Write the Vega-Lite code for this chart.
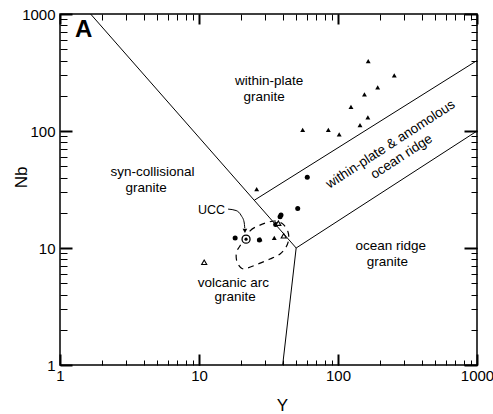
{
  "$schema": "https://vega.github.io/schema/vega-lite/v6.json",
  "width": 417,
  "height": 351,
  "autosize": "none",
  "padding": {"left": 60, "top": 14, "right": 16, "bottom": 49},
  "config": {
    "view": {"stroke": "black", "strokeWidth": 1.5},
    "font": "Liberation Sans",
    "axis": {
      "grid": false,
      "domain": false,
      "tickColor": "black",
      "labelColor": "black",
      "titleColor": "black",
      "labelFont": "Liberation Sans",
      "titleFont": "Liberation Sans",
      "labelFontSize": 15,
      "titleFontSize": 17,
      "titleFontWeight": "normal",
      "labelFlush": false,
      "labelOverlap": false,
      "labelBound": false
    }
  },
  "resolve": {"axis": {"x": "independent", "y": "independent"}},
  "datasets": {
    "bounds": [
      {"Y1": 1.66, "Nb1": 1000, "Y2": 50, "Nb2": 10},
      {"Y1": 25, "Nb1": 25.6, "Y2": 1000, "Nb2": 400},
      {"Y1": 50, "Nb1": 10, "Y2": 1000, "Nb2": 100},
      {"Y1": 50, "Nb1": 10, "Y2": 40, "Nb2": 1}
    ],
    "loop": [
      {"i": 1, "Y": 19.7, "Nb": 10.4},
      {"i": 2, "Y": 23.3, "Nb": 14.0},
      {"i": 3, "Y": 26.6, "Nb": 15.4},
      {"i": 4, "Y": 30.3, "Nb": 16.4},
      {"i": 5, "Y": 35.2, "Nb": 17.0},
      {"i": 6, "Y": 40.2, "Nb": 16.0},
      {"i": 7, "Y": 43.7, "Nb": 13.7},
      {"i": 8, "Y": 44.1, "Nb": 11.7},
      {"i": 9, "Y": 42.3, "Nb": 10.2},
      {"i": 10, "Y": 38.3, "Nb": 8.89},
      {"i": 11, "Y": 32.4, "Nb": 8.05},
      {"i": 12, "Y": 26.6, "Nb": 7.3},
      {"i": 13, "Y": 22.5, "Nb": 6.75},
      {"i": 14, "Y": 20.4, "Nb": 6.68},
      {"i": 15, "Y": 18.9, "Nb": 7.44},
      {"i": 16, "Y": 18.5, "Nb": 8.54},
      {"i": 17, "Y": 18.9, "Nb": 9.61}
    ],
    "arrow": [
      {"i": 1, "Y": 16.2, "Nb": 21.5},
      {"i": 2, "Y": 18.5, "Nb": 20.9},
      {"i": 3, "Y": 20.2, "Nb": 18.8},
      {"i": 4, "Y": 21.1, "Nb": 16.7},
      {"i": 5, "Y": 21.35, "Nb": 14.8}
    ],
    "arrowhead": [{"Y": 21.4, "Nb": 14.0}],
    "triFilled": [
      {"Y": 165, "Nb": 396}, {"Y": 254, "Nb": 299}, {"Y": 193, "Nb": 236},
      {"Y": 155, "Nb": 206}, {"Y": 124, "Nb": 161}, {"Y": 164, "Nb": 131},
      {"Y": 144, "Nb": 112}, {"Y": 55.7, "Nb": 102}, {"Y": 85.2, "Nb": 102},
      {"Y": 102, "Nb": 93.7}, {"Y": 26, "Nb": 31.9},
      {"Y": 34.8, "Nb": 12.2}, {"Y": 27.5, "Nb": 11.9}
    ],
    "circFilled": [
      {"Y": 51.3, "Nb": 21.8}, {"Y": 38.9, "Nb": 19.1}, {"Y": 38.3, "Nb": 18.5},
      {"Y": 35.6, "Nb": 15.9}, {"Y": 18.2, "Nb": 12.2}, {"Y": 27.2, "Nb": 11.7},
      {"Y": 60.1, "Nb": 40.2}
    ],
    "triOpen": [
      {"Y": 40.7, "Nb": 12.7}, {"Y": 10.9, "Nb": 7.55}, {"Y": 37.2, "Nb": 16.3}
    ],
    "ucc": [{"Y": 21.8, "Nb": 11.9}],
    "labels": [
      {"label": "within-plate", "Y": 31.9, "Nb": 267},
      {"label": "granite", "Y": 29.4, "Nb": 195},
      {"label": "syn-collisional", "Y": 4.63, "Nb": 44.6},
      {"label": "granite", "Y": 4.16, "Nb": 32.6},
      {"label": "volcanic arc", "Y": 17.7, "Nb": 5.05},
      {"label": "granite", "Y": 18.2, "Nb": 3.84},
      {"label": "ocean ridge", "Y": 240, "Nb": 10.5},
      {"label": "granite", "Y": 227, "Nb": 7.55}
    ],
    "uccLabel": [{"label": "UCC", "Y": 12.3, "Nb": 21.1}],
    "rotLabels": [
      {"label": "within-plate & anomolous", "Y": 239, "Nb": 76.9},
      {"label": "ocean ridge", "Y": 287, "Nb": 60.3}
    ],
    "panel": [{"label": "A", "Y": 1.28, "Nb": 730}]
  },
  "layer": [
    {
      "data": {"name": "bounds"},
      "mark": {"type": "rule", "color": "black", "strokeWidth": 1},
      "encoding": {
        "x": {"field": "Y1", "type": "quantitative", "scale": {"type": "log", "domain": [1, 1000], "nice": false},
          "axis": {"orient": "bottom", "values": [1, 10, 100, 1000], "tickSize": -11, "tickWidth": 2, "labelPadding": 14, "format": "d",
            "title": "Y", "titleX": 222, "titleY": 40, "titleAlign": "center", "titleBaseline": "middle"}},
        "x2": {"field": "Y2"},
        "y": {"field": "Nb1", "type": "quantitative", "scale": {"type": "log", "domain": [1, 1000], "nice": false},
          "axis": {"orient": "left", "values": [1, 10, 100, 1000], "tickSize": -12, "tickWidth": 2, "labelPadding": 17, "format": "d",
            "title": "Nb", "titleX": -39, "titleY": 163, "titleAngle": 270, "titleAlign": "center", "titleBaseline": "middle"}},
        "y2": {"field": "Nb2"}
      }
    },
    {
      "data": {"name": "loop"},
      "mark": {"type": "line", "color": "black", "strokeWidth": 1.2, "strokeDash": [6, 5], "interpolate": "cardinal-closed"},
      "encoding": {
        "x": {"field": "Y", "type": "quantitative", "scale": {"type": "log", "domain": [1, 1000], "nice": false},
          "axis": {"orient": "bottom", "values": [1,2,3,4,5,6,7,8,9,10,20,30,40,50,60,70,80,90,100,200,300,400,500,600,700,800,900,1000], "tickSize": -5, "tickWidth": 1, "labels": false, "title": null}},
        "y": {"field": "Nb", "type": "quantitative", "scale": {"type": "log", "domain": [1, 1000], "nice": false},
          "axis": {"orient": "left", "values": [1,2,3,4,5,6,7,8,9,10,20,30,40,50,60,70,80,90,100,200,300,400,500,600,700,800,900,1000], "tickSize": -7, "tickWidth": 1, "labels": false, "title": null}},
        "order": {"field": "i", "type": "quantitative"}
      }
    },
    {
      "data": {"name": "arrow"},
      "mark": {"type": "line", "color": "black", "strokeWidth": 1, "interpolate": "monotone"},
      "encoding": {
        "x": {"field": "Y", "type": "quantitative", "scale": {"type": "log", "domain": [1, 1000], "nice": false},
          "axis": {"orient": "top", "values": [1, 10, 100, 1000], "tickSize": -10, "tickWidth": 2, "labels": false, "title": null}},
        "y": {"field": "Nb", "type": "quantitative", "scale": {"type": "log", "domain": [1, 1000], "nice": false},
          "axis": {"orient": "right", "values": [1, 10, 100, 1000], "tickSize": -13, "tickWidth": 2, "labels": false, "title": null}},
        "order": {"field": "i", "type": "quantitative"}
      }
    },
    {
      "data": {"name": "arrowhead"},
      "mark": {"type": "point", "shape": "triangle-down", "filled": true, "color": "black", "size": 22, "opacity": 1},
      "encoding": {
        "x": {"field": "Y", "type": "quantitative", "scale": {"type": "log", "domain": [1, 1000], "nice": false},
          "axis": {"orient": "top", "values": [1,2,3,4,5,6,7,8,9,10,20,30,40,50,60,70,80,90,100,200,300,400,500,600,700,800,900,1000], "tickSize": -6, "tickWidth": 1, "labels": false, "title": null}},
        "y": {"field": "Nb", "type": "quantitative", "scale": {"type": "log", "domain": [1, 1000], "nice": false},
          "axis": {"orient": "right", "values": [1,2,3,4,5,6,7,8,9,10,20,30,40,50,60,70,80,90,100,200,300,400,500,600,700,800,900,1000], "tickSize": -6, "tickWidth": 1, "labels": false, "title": null}}
      }
    },
    {
      "data": {"name": "triFilled"},
      "mark": {"type": "point", "shape": "triangle-up", "filled": true, "color": "black", "size": 24, "opacity": 1},
      "encoding": {
        "x": {"field": "Y", "type": "quantitative", "axis": null},
        "y": {"field": "Nb", "type": "quantitative", "axis": null}
      }
    },
    {
      "data": {"name": "circFilled"},
      "mark": {"type": "point", "shape": "circle", "filled": true, "color": "black", "size": 25, "opacity": 1},
      "encoding": {
        "x": {"field": "Y", "type": "quantitative", "axis": null},
        "y": {"field": "Nb", "type": "quantitative", "axis": null}
      }
    },
    {
      "data": {"name": "triOpen"},
      "mark": {"type": "point", "shape": "triangle-up", "filled": true, "fill": "white", "stroke": "black", "strokeWidth": 1.1, "size": 26, "opacity": 1},
      "encoding": {
        "x": {"field": "Y", "type": "quantitative", "axis": null},
        "y": {"field": "Nb", "type": "quantitative", "axis": null}
      }
    },
    {
      "data": {"name": "ucc"},
      "mark": {"type": "point", "shape": "circle", "filled": true, "fill": "white", "stroke": "black", "strokeWidth": 1.3, "size": 64, "opacity": 1},
      "encoding": {
        "x": {"field": "Y", "type": "quantitative", "axis": null},
        "y": {"field": "Nb", "type": "quantitative", "axis": null}
      }
    },
    {
      "data": {"name": "ucc"},
      "mark": {"type": "point", "shape": "circle", "filled": true, "color": "black", "size": 10, "opacity": 1},
      "encoding": {
        "x": {"field": "Y", "type": "quantitative", "axis": null},
        "y": {"field": "Nb", "type": "quantitative", "axis": null}
      }
    },
    {
      "data": {"name": "labels"},
      "mark": {"type": "text", "fontSize": 13.5, "font": "Liberation Sans", "color": "black", "align": "center", "baseline": "middle"},
      "encoding": {
        "x": {"field": "Y", "type": "quantitative", "axis": null},
        "y": {"field": "Nb", "type": "quantitative", "axis": null},
        "text": {"field": "label"}
      }
    },
    {
      "data": {"name": "uccLabel"},
      "mark": {"type": "text", "fontSize": 12.5, "font": "Liberation Sans", "color": "black", "align": "center", "baseline": "middle"},
      "encoding": {
        "x": {"field": "Y", "type": "quantitative", "axis": null},
        "y": {"field": "Nb", "type": "quantitative", "axis": null},
        "text": {"field": "label"}
      }
    },
    {
      "data": {"name": "rotLabels"},
      "mark": {"type": "text", "fontSize": 13.5, "font": "Liberation Sans", "color": "black", "align": "center", "baseline": "middle", "angle": 327},
      "encoding": {
        "x": {"field": "Y", "type": "quantitative", "axis": null},
        "y": {"field": "Nb", "type": "quantitative", "axis": null},
        "text": {"field": "label"}
      }
    },
    {
      "data": {"name": "panel"},
      "mark": {"type": "text", "fontSize": 24, "fontWeight": "bold", "font": "Liberation Sans", "color": "black", "align": "left", "baseline": "middle"},
      "encoding": {
        "x": {"field": "Y", "type": "quantitative", "axis": null},
        "y": {"field": "Nb", "type": "quantitative", "axis": null},
        "text": {"field": "label"}
      }
    }
  ]
}
